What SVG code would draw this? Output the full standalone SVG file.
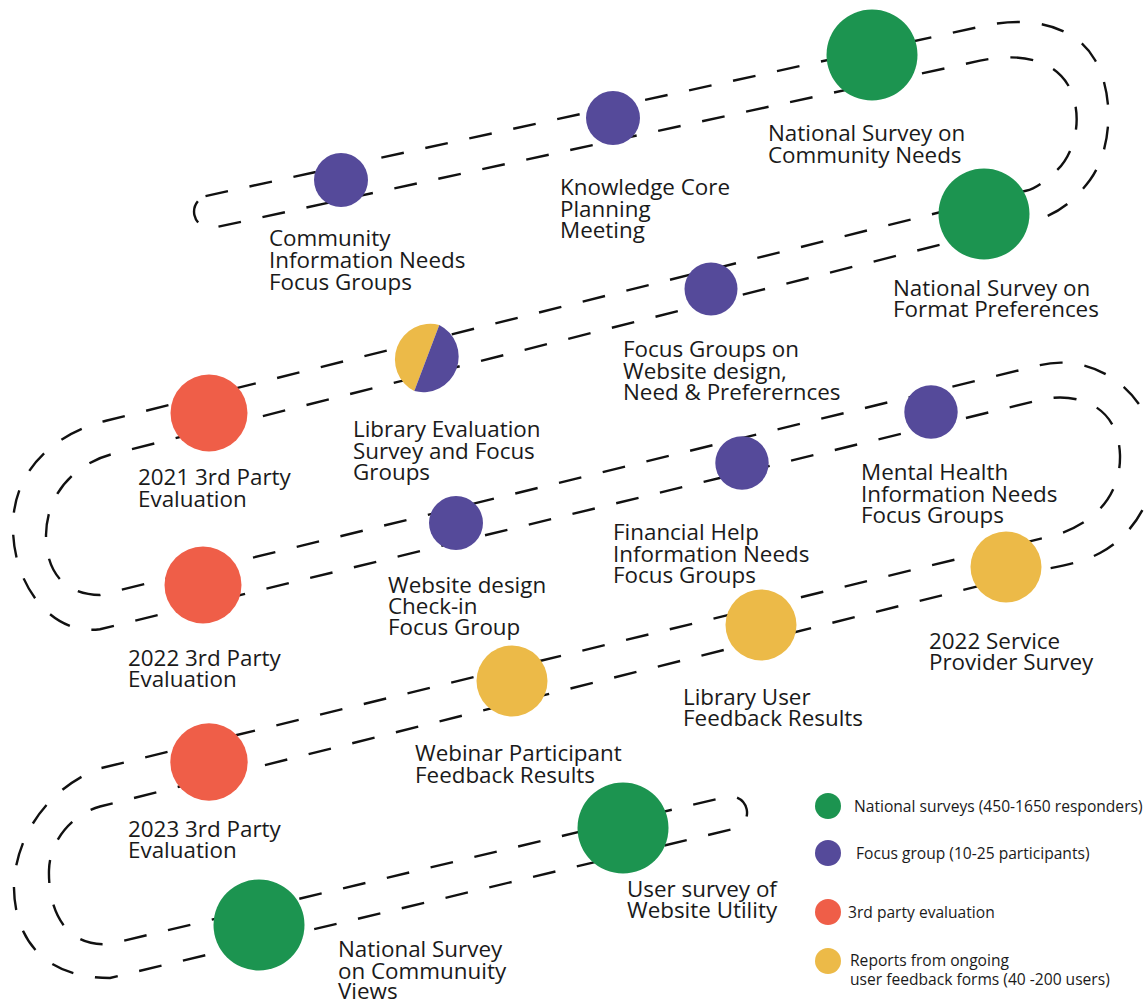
<svg xmlns="http://www.w3.org/2000/svg" width="1148" height="1002" viewBox="0 0 1148 1002">
  <style>
    .road { fill: none; stroke: #111; stroke-width: 2.4; stroke-dasharray: 23 22; }
    .green { fill: #1c9450; }
    .purple { fill: #554a9a; }
    .red { fill: #ef5e48; }
    .yellow { fill: #ecba48; }
    .lbl { font-family: "Open Sans", "Liberation Sans", sans-serif; font-size: 22.4px; fill: #1a1a1a; }
    .leg { font-family: "Open Sans", "Liberation Sans", sans-serif; font-size: 15.6px; fill: #1a1a1a; }
  </style>
  <rect width="1148" height="1002" fill="#ffffff"/>
  <g id="connectors">
    <path class="road" d="M 205.5,196.1 L 985,25.6 C 1030,16 1075,25 1095,60 C 1115,95 1112,150 1090,180 C 1075,200 1058,215 1030,222 L 112,454.2 C 85,461 47,485 46,535 C 46,570 62,594 100,595 L 1040,365.2 C 1085,354 1140,380 1155,440 C 1162,490 1135,535 1100,553 C 1085,561 1068,565 1050,568.2 L 100,806.5 C 75,813 50,838 49,870 C 48,905 62,948 110,944 L 727.2,796.55 A 16.5 16.5 0 0 1 734.8,828.65 L 110,978 C 45,978 12,940 14,880 C 20,820 62,782 100,768.4 L 1048,536.9 C 1088,528 1121,500 1120,455 C 1118,400 1070,392.5 1040,399.9 L 100,629.2 C 52,636 12,585 13,525 C 14,465 60,432.3 106,420.75 L 1026,190.75 C 1036,188.5 1045,181 1055,172 C 1075,155 1085,115 1068,85 C 1050,55 1010,54 980,60.7 L 212.5,228 A 16.4 16.4 0 0 1 205.5,196.1 Z"/>
  </g>
  <g id="node-community-info">
    <circle class="purple" cx="341" cy="180" r="27"/>
    <text class="lbl" x="269" y="246">Community</text>
    <text class="lbl" x="269" y="268">Information Needs</text>
    <text class="lbl" x="269" y="290">Focus Groups</text>
  </g>
  <g id="node-knowledge-core">
    <circle class="purple" cx="613" cy="118" r="27"/>
    <text class="lbl" x="560" y="195">Knowledge Core</text>
    <text class="lbl" x="560" y="217">Planning</text>
    <text class="lbl" x="560" y="238">Meeting</text>
  </g>
  <g id="node-national-community-needs">
    <circle class="green" cx="872" cy="55" r="45.5"/>
    <text class="lbl" x="768" y="141">National Survey on</text>
    <text class="lbl" x="768" y="163">Community Needs</text>
  </g>
  <g id="node-national-format">
    <circle class="green" cx="984" cy="214" r="45.5"/>
    <text class="lbl" x="893" y="296">National Survey on</text>
    <text class="lbl" x="893" y="317">Format Preferences</text>
  </g>
  <g id="node-website-focus">
    <circle class="purple" cx="711" cy="289" r="26.5"/>
    <text class="lbl" x="623" y="357">Focus Groups on</text>
    <text class="lbl" x="623" y="379">Website design,</text>
    <text class="lbl" x="623" y="400">Need &amp; Preferernces</text>
  </g>
  <g id="node-library-eval">
    <path class="yellow" d="M 439.3,325 A 35.5 35.5 0 0 0 414.3,391 Z"/>
    <path class="purple" d="M 439.3,325 A 35.5 35.5 0 0 1 414.3,391 Z"/>
    <text class="lbl" x="353" y="437">Library Evaluation</text>
    <text class="lbl" x="353" y="459">Survey and Focus</text>
    <text class="lbl" x="353" y="480">Groups</text>
  </g>
  <g id="node-eval-2021">
    <circle class="red" cx="209" cy="413" r="38.5"/>
    <text class="lbl" x="138" y="485">2021 3rd Party</text>
    <text class="lbl" x="138" y="507">Evaluation</text>
  </g>
  <g id="node-eval-2022">
    <circle class="red" cx="203" cy="585" r="38.5"/>
    <text class="lbl" x="128" y="666">2022 3rd Party</text>
    <text class="lbl" x="128" y="687">Evaluation</text>
  </g>
  <g id="node-website-checkin">
    <circle class="purple" cx="456" cy="523" r="27"/>
    <text class="lbl" x="388" y="593">Website design</text>
    <text class="lbl" x="388" y="614">Check-in</text>
    <text class="lbl" x="388" y="635">Focus Group</text>
  </g>
  <g id="node-financial-help">
    <circle class="purple" cx="742" cy="463" r="26.7"/>
    <text class="lbl" x="613" y="540">Financial Help</text>
    <text class="lbl" x="613" y="562">Information Needs</text>
    <text class="lbl" x="613" y="583">Focus Groups</text>
  </g>
  <g id="node-mental-health">
    <circle class="purple" cx="931" cy="412" r="26.7"/>
    <text class="lbl" x="861" y="480">Mental Health</text>
    <text class="lbl" x="861" y="502">Information Needs</text>
    <text class="lbl" x="861" y="523">Focus Groups</text>
  </g>
  <g id="node-service-provider">
    <circle class="yellow" cx="1006" cy="567" r="35.5"/>
    <text class="lbl" x="929" y="649">2022 Service</text>
    <text class="lbl" x="929" y="670">Provider Survey</text>
  </g>
  <g id="node-library-user">
    <circle class="yellow" cx="761" cy="625" r="35.5"/>
    <text class="lbl" x="683" y="705">Library User</text>
    <text class="lbl" x="683" y="726">Feedback Results</text>
  </g>
  <g id="node-webinar">
    <circle class="yellow" cx="512" cy="681" r="35.5"/>
    <text class="lbl" x="415" y="761">Webinar Participant</text>
    <text class="lbl" x="415" y="783">Feedback Results</text>
  </g>
  <g id="node-eval-2023">
    <circle class="red" cx="209" cy="762" r="38.7"/>
    <text class="lbl" x="128" y="837">2023 3rd Party</text>
    <text class="lbl" x="128" y="858">Evaluation</text>
  </g>
  <g id="node-national-views">
    <circle class="green" cx="259" cy="925" r="45.5"/>
    <text class="lbl" x="338" y="957">National Survey</text>
    <text class="lbl" x="338" y="979">on Communuity</text>
    <text class="lbl" x="338" y="999">Views</text>
  </g>
  <g id="node-website-utility">
    <circle class="green" cx="623" cy="828" r="45.5"/>
    <text class="lbl" x="627" y="897">User survey of</text>
    <text class="lbl" x="627" y="918">Website Utility</text>
  </g>
  <g id="legend">
    <circle class="green" cx="828" cy="806" r="13"/>
    <text class="leg" x="854" y="812">National surveys (450-1650 responders)</text>
    <circle class="purple" cx="828" cy="853" r="13"/>
    <text class="leg" x="856" y="859">Focus group (10-25 participants)</text>
    <circle class="red" cx="828" cy="912" r="13"/>
    <text class="leg" x="848" y="918">3rd party evaluation</text>
    <circle class="yellow" cx="828" cy="961" r="13"/>
    <text class="leg" x="850" y="966">Reports from ongoing</text>
    <text class="leg" x="850" y="985">user feedback forms (40 -200 users)</text>
  </g>
</svg>
